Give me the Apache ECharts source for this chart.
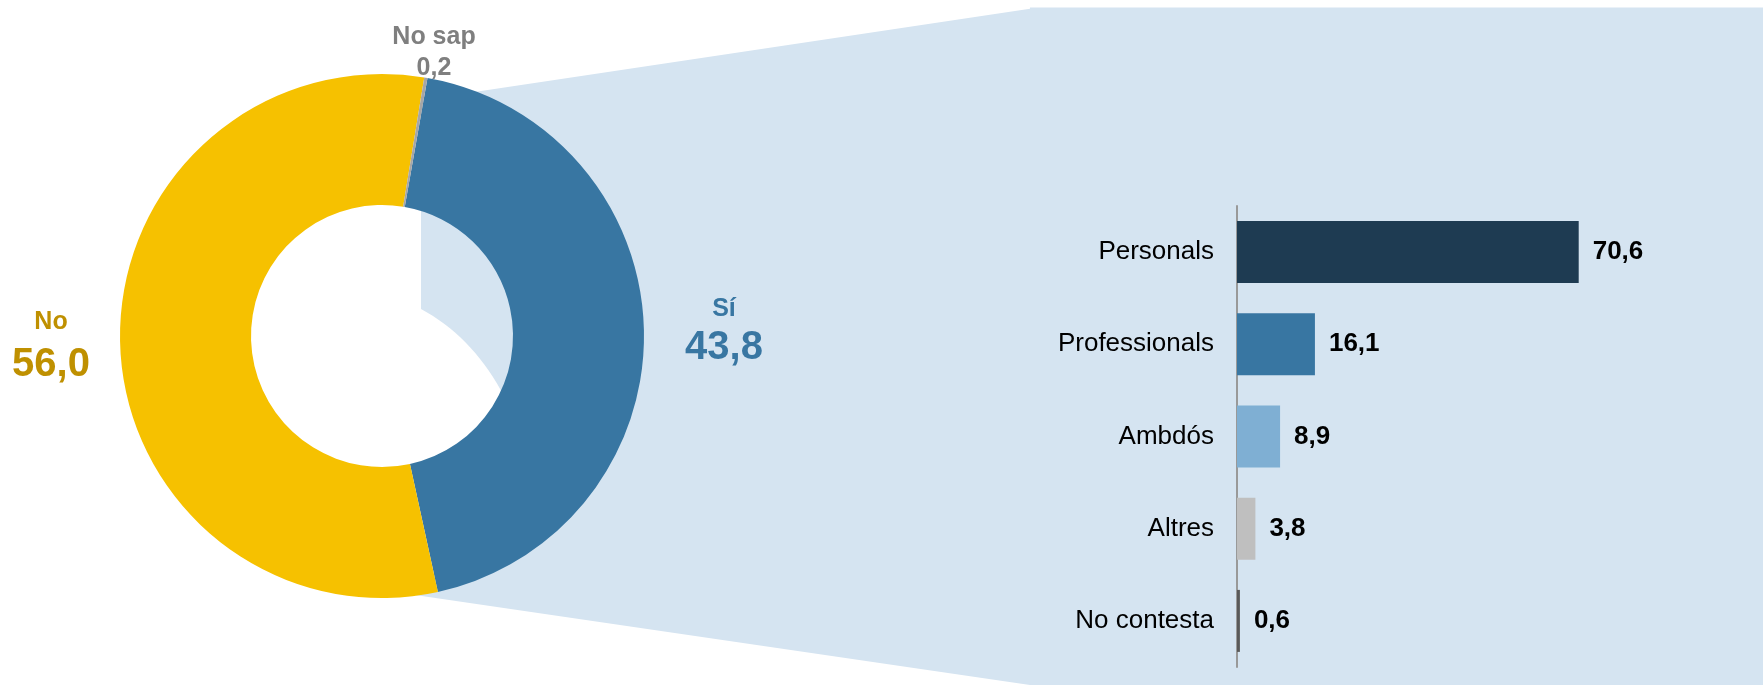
<!DOCTYPE html>
<html>
<head>
<meta charset="utf-8">
<title>Sí / No</title>
<script src="https://cdn.jsdelivr.net/npm/echarts@6/dist/echarts.min.js"></script>
<style>
  html, body { margin: 0; padding: 0; background: #fff; }
  #chart { width: 1763px; height: 685px; }
</style>
</head>
<body>
<div id="chart"></div>
<script>
// donut
var pieNames = ['Sí', 'No', 'No sap'];
var pieValues = [43.8, 56.0, 0.2];
// bars
var barCats = ['Personals', 'Professionals', 'Ambdós', 'Altres', 'No contesta'];
var barValues = [70.6, 16.1, 8.9, 3.8, 0.6];

var pieColors = ['#3876a2', '#f6c100', '#a6a6a6'];
var pieTextColors = ['#3876a2', '#bf9000', '#7f7f7f'];
var barColors = ['#1e3b52', '#3876a2', '#7fafd3', '#bfbfbf', '#595959'];
var font = '"Liberation Sans", Arial, sans-serif';

function fmt(v) {
  return v.toFixed(1).replace('.', ',');
}

// where the donut labels sit
var pieLabelPos = {
  'Sí': [724, 294],
  'No': [51, 307],
  'No sap': [434, 22]
};

// light blue connector shape behind the donut (the curved bit shows in the hole)
function connectorPoints() {
  var pts = [[421, 100], [1030, 8.8], [1030, 7.5], [1763, 7.5], [1763, 685],
             [1030, 685], [415, 595], [530, 470], [500.7, 390]];
  // quadratic curve back up to the vertical edge
  var p0 = [500.7, 390], c = [470.3, 335.6], p1 = [421, 309];
  for (var k = 1; k <= 16; k++) {
    var t = k / 16, u = 1 - t;
    pts.push([u * u * p0[0] + 2 * u * t * c[0] + t * t * p1[0],
              u * u * p0[1] + 2 * u * t * c[1] + t * t * p1[1]]);
  }
  return pts;
}

var chart = echarts.init(document.getElementById('chart'));

var option = {
  backgroundColor: '#fff',
  animation: false,
  textStyle: { fontFamily: font },
  graphic: [{
    type: 'polygon',
    z: 0,
    shape: { points: connectorPoints() },
    style: { fill: '#d5e4f1' }
  }],
  grid: {
    left: 1237,
    top: 206,
    width: 484,
    height: 461
  },
  xAxis: {
    type: 'value',
    min: 0,
    max: 100,
    show: false
  },
  yAxis: {
    type: 'category',
    data: barCats,
    inverse: true,
    axisLine: { show: true, lineStyle: { color: '#999', width: 2 } },
    axisTick: { show: false },
    axisLabel: {
      fontSize: 26,
      color: '#000',
      margin: 23,
      fontFamily: font
    }
  },
  series: [{
    type: 'pie',
    center: [382, 336],
    radius: [131, 262],
    startAngle: 80,
    clockwise: true,
    z: 3,
    data: pieNames.map(function (n, i) {
      return {
        name: n,
        value: pieValues[i],
        itemStyle: { color: pieColors[i] },
        label: { color: pieTextColors[i] }
      };
    }),
    labelLine: { show: false },
    label: {
      show: true,
      position: 'outside',
      overflow: 'none',
      width: 200,
      fontFamily: font,
      fontWeight: 'bold',
      formatter: function (p) {
        if (p.name === 'No sap') {
          return '{s|' + p.name + '}\n{s|' + fmt(p.value) + '}';
        }
        var key = p.name === 'No' ? 'w' : 'v';
        return '{n|' + p.name + '}\n{' + key + '|' + fmt(p.value) + '}';
      },
      rich: {
        n: { fontSize: 25, fontWeight: 'bold', lineHeight: 30, fontFamily: font },
        v: { fontSize: 40, fontWeight: 'bold', lineHeight: 48, fontFamily: font },
        w: { fontSize: 40, fontWeight: 'bold', lineHeight: 56, fontFamily: font },
        s: { fontSize: 25, fontWeight: 'bold', lineHeight: 31, fontFamily: font }
      }
    },
    labelLayout: function (params) {
      var pos = pieLabelPos[pieNames[params.dataIndex]];
      return {
        x: pos[0],
        y: pos[1],
        align: 'center',
        verticalAlign: 'top'
      };
    }
  }, {
    type: 'bar',
    barWidth: 62,
    z: 3,
    data: barValues.map(function (v, i) {
      return { value: v, itemStyle: { color: barColors[i] } };
    }),
    label: {
      show: true,
      position: 'right',
      distance: 14,
      fontSize: 26,
      fontWeight: 'bold',
      color: '#000',
      fontFamily: font,
      formatter: function (p) { return fmt(p.value); }
    }
  }]
};

chart.setOption(option);
</script>
</body>
</html>
